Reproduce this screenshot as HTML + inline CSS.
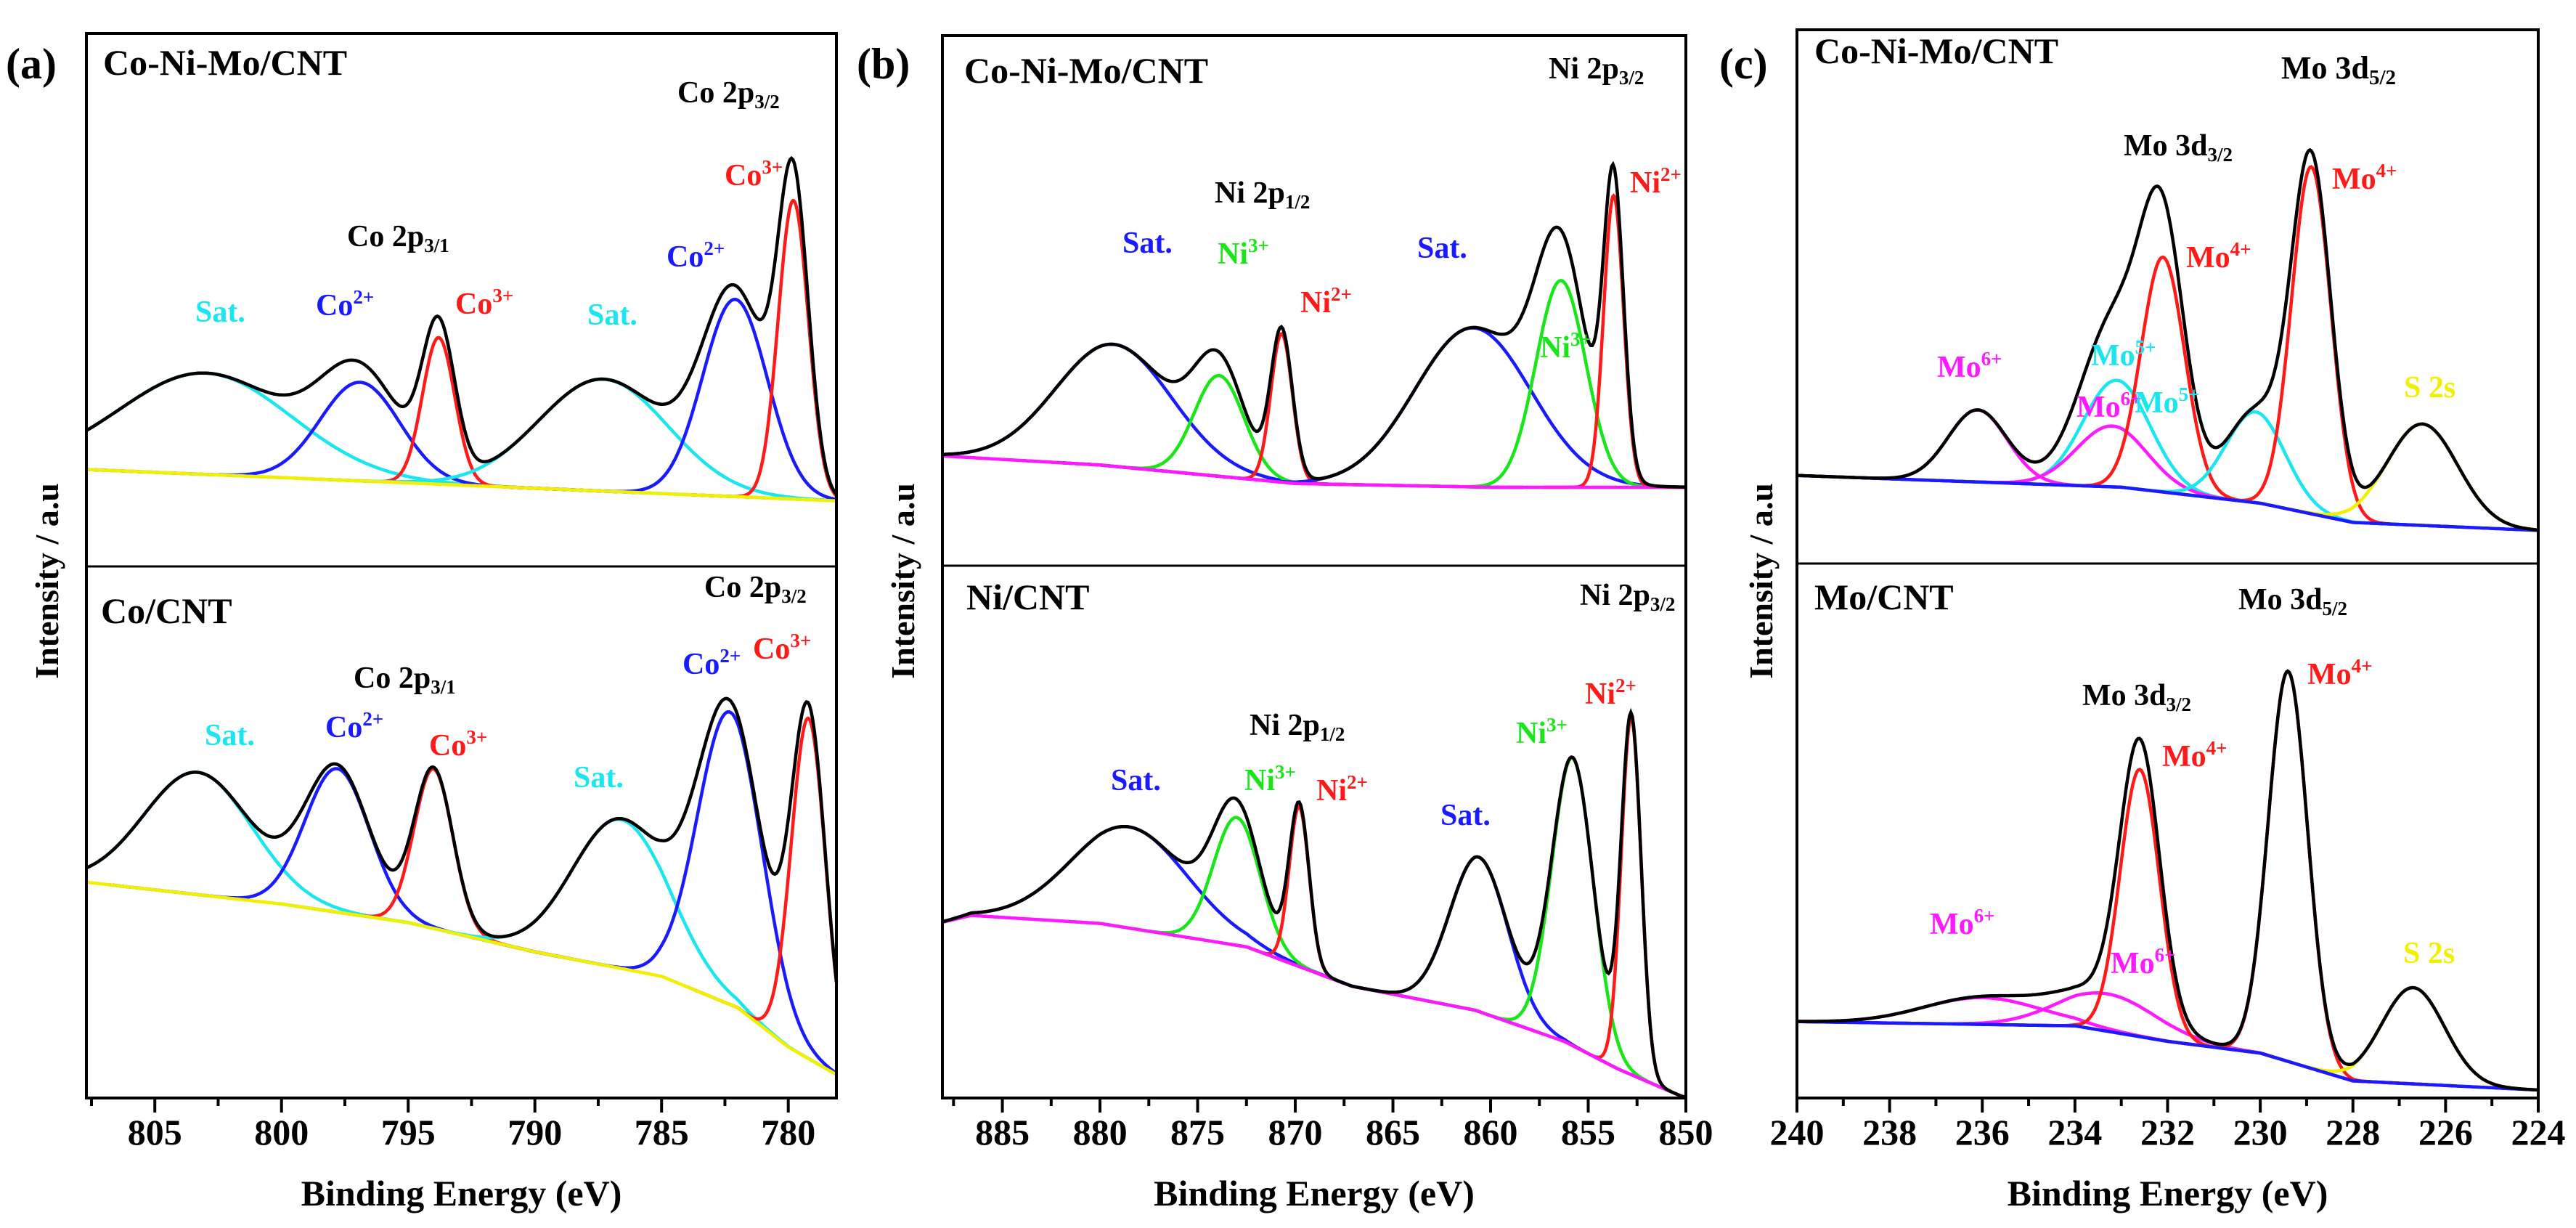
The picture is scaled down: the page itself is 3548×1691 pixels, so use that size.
<!DOCTYPE html>
<html><head><meta charset="utf-8">
<style>
html,body{margin:0;padding:0;background:#fff;}
svg{display:block;}
text{font-family:"Liberation Serif",serif;font-weight:bold;}
</style></head>
<body>
<svg id="fig" width="3548" height="1691" viewBox="0 0 3548 1691" xmlns="http://www.w3.org/2000/svg">
<rect width="3548" height="1691" fill="#fff"/>
<g id="layer"></g>
</svg>
<script>
// ===== DATA (binding energy in eV, intensity in arbitrary units 0-100 per sub-panel) =====
// Panel a top (Co-Ni-Mo/CNT, Co 2p)
const aTopBgE=[807.7,778.1];
const aTopBgU=[18.2,12.3];
const aTopCenters=[803.0,796.9,793.8,787.3,782.1,779.8];
const aTopHeights=[19,18.5,27.5,21,37,56];
const aTopFwhm=[8,3.7,1.5,6,3,1.4];
const aTopKinds=["cyan","blue","red","cyan","blue","red"];
// Panel a bottom (Co/CNT)
const aBotBgE=[807.7,800,795,790,785,782,780,778.1];
const aBotBgU=[40.6,36.5,33,27.5,22.9,17,9.6,4.4];
const aBotCenters=[803.3,797.8,794.0,786.6,782.3,779.2];
const aBotHeights=[23,27,30,28,55,64];
const aBotFwhm=[5,3,1.8,4.5,3,1.6];
const aBotKinds=["cyan","blue","red","cyan","blue","red"];
// Panel b top (Co-Ni-Mo/CNT, Ni 2p)
const bTopBgE=[888.07,880,870,860,850];
const bTopBgU=[20.7,19,15.5,14.8,14.8];
const bTopCenters=[879.3,873.9,870.7,860.9,856.4,853.7];
const bTopHeights=[23,19,28,30,39,55];
const bTopFwhm=[7,3,1.3,7,3,1.2];
const bTopKinds=["blue","green","red","blue","green","red"];
// Panel b bottom (Ni/CNT)
const bBotBgE=[888.07,886.6,880,872.5,867.1,860.8,856.2,853.5,850.2,850];
const bBotBgU=[33,34.3,32.8,28.4,21,16.5,10.6,5.5,0.3,0.2];
const bBotCenters=[878.5,873.0,869.8,860.6,855.8,852.8];
const bBotHeights=[19,24,30,29,54,67];
const bBotFwhm=[7,2.8,1.2,3.5,2.5,1.2];
const bBotKinds=["blue","green","red","blue","green","red"];
// Panel c top (Co-Ni-Mo/CNT, Mo 3d)
const cTopBgE=[240,233,230,228,224];
const cTopBgU=[16.5,14.3,11.3,7.7,6.2];
const cTopCenters=[236.1,233.1,233.2,232.1,230.1,228.9,226.5];
const cTopHeights=[13.5,20,11.4,44,17,65,19];
const cTopFwhm=[1.5,1.7,1.8,1.1,1.5,1.0,1.8];
const cTopKinds=["magenta","cyan","magenta","red","cyan","red","yellow"];
// Panel c bottom (Mo/CNT)
const cBotBgE=[240,234,232,230,228,224];
const cBotBgU=[14.3,13.5,10.6,8.4,3.2,1.5];
const cBotCenters=[236.0,233.3,232.6,229.4,226.7];
const cBotHeights=[5,7,50,73,18];
const cBotFwhm=[3,2.5,1.0,1.0,1.6];
const cBotKinds=["magenta","magenta","red","red","yellow"];
// Tick labels
const aTicks=[805,800,795,790,785,780];
const bTicks=[885,880,875,870,865,860,855,850];
const cTicks=[240,238,236,234,232,230,228,226,224];

// ===== STYLES / GEOMETRY =====
const COL={cyan:"#19e6ef",blue:"#1a1aff",red:"#ff1a1a",green:"#19e619",magenta:"#ff19ff",yellow:"#f0f000"};
const NS="http://www.w3.org/2000/svg";
const layer=document.getElementById("layer");
function mk(tag,attrs,parent){const e=document.createElementNS(NS,tag);for(const k in attrs)e.setAttribute(k,attrs[k]);(parent||layer).appendChild(e);return e;}

const panels=[
 {id:"a",x0:119,x1:1152,e0:807.7,e1:778.1,yT:46,yM:780,yB:1512,ticks:aTicks,minor:2.5,bgCol:COL.yellow,
  subs:[[aTopBgE,aTopBgU,aTopCenters,aTopHeights,aTopFwhm,aTopKinds],[aBotBgE,aBotBgU,aBotCenters,aBotHeights,aBotFwhm,aBotKinds]],ylab:65},
 {id:"b",x0:1298,x1:2322,e0:888.07,e1:850,yT:49,yM:779,yB:1512,ticks:bTicks,minor:2.5,bgCol:COL.magenta,
  subs:[[bTopBgE,bTopBgU,bTopCenters,bTopHeights,bTopFwhm,bTopKinds],[bBotBgE,bBotBgU,bBotCenters,bBotHeights,bBotFwhm,bBotKinds]],ylab:1244},
 {id:"c",x0:2475,x1:3496,e0:240,e1:224,yT:41,yM:776,yB:1512,ticks:cTicks,minor:1,bgCol:COL.blue,
  subs:[[cTopBgE,cTopBgU,cTopCenters,cTopHeights,cTopFwhm,cTopKinds],[cBotBgE,cBotBgU,cBotCenters,cBotHeights,cBotFwhm,cBotKinds]],ylab:2426}
];

function interp(xs,ys,x){
  for(let i=0;i<xs.length-1;i++){
    const a=xs[i],b=xs[i+1];
    if((x<=a&&x>=b)||(x>=a&&x<=b)){const t=(x-a)/(b-a);return ys[i]+t*(ys[i+1]-ys[i]);}
  }
  return x>Math.max(xs[0],xs[xs.length-1])?ys[0]:ys[ys.length-1];
}
function gauss(x,c,h,f){return h*Math.exp(-4*Math.LN2*(x-c)*(x-c)/(f*f));}

panels.forEach(p=>{
  const g=mk("g",{});
  
  
  const xs=e=>p.x0+(p.e0-e)/(p.e0-p.e1)*(p.x1-p.x0);
  const N=500;
  p.subs.forEach((s,si)=>{
    const [bgE,bgU,cs,hs,fs,ks]=s;
    const top=si===0?p.yT:p.yM, bot=si===0?p.yM:p.yB;
    const ys=u=>bot-u/100*(bot-top);
    const sg=mk("g",{},g);
    
    
    cs.forEach((c,i)=>{
      const lo=Math.min(p.e0,c+3*fs[i]), hi=Math.max(p.e1,c-3*fs[i]);
      let d="";
      for(let k=0;k<=200;k++){
        const e=lo+(hi-lo)*k/200;
        const u=interp(bgE,bgU,e)+gauss(e,c,hs[i],fs[i]);
        d+=(k?"L":"M")+xs(e).toFixed(1)+","+ys(u).toFixed(1);
      }
      const path=mk("path",{d:d,fill:"none",stroke:COL[ks[i]],"stroke-width":4.5},sg);
      
      
    });
    let db="";
    for(let k=0;k<=N;k++){const e=p.e0+(p.e1-p.e0)*k/N;db+=(k?"L":"M")+xs(e).toFixed(1)+","+ys(interp(bgE,bgU,e)).toFixed(1);}
    const bp=mk("path",{d:db,fill:"none",stroke:p.bgCol,"stroke-width":4.5},sg);
    
    
    let de="";
    for(let k=0;k<=N;k++){
      const e=p.e0+(p.e1-p.e0)*k/N;
      let u=interp(bgE,bgU,e);
      cs.forEach((c,i)=>{u+=gauss(e,c,hs[i],fs[i]);});
      de+=(k?"L":"M")+xs(e).toFixed(1)+","+ys(u).toFixed(1);
    }
    const ep=mk("path",{d:de,fill:"none",stroke:"#000","stroke-width":4.5},sg);
    
    
  });
  const fr=mk("rect",{x:p.x0,y:p.yT,width:p.x1-p.x0,height:p.yB-p.yT,fill:"none",stroke:"#000","stroke-width":4},g);
  
  
  const dv=mk("line",{x1:p.x0,x2:p.x1,y1:p.yM,y2:p.yM,stroke:"#000","stroke-width":3},g);
  
  
  const lo=Math.min(p.e0,p.e1),hi=Math.max(p.e0,p.e1);
  for(let e=Math.ceil(lo/p.minor)*p.minor;e<=hi+1e-6;e+=p.minor){
    const major=p.ticks.some(t=>Math.abs(t-e)<1e-6);
    const tl=mk("line",{x1:xs(e),x2:xs(e),y1:p.yB,y2:p.yB+(major?20:11),stroke:"#000","stroke-width":4},g);
    
    
  }
  p.ticks.forEach(t=>{
    const tx=mk("text",{x:xs(t),y:1576,"font-size":50,"text-anchor":"middle"},g);
    tx.textContent=t;
    
    
  });
  const xl=mk("text",{x:(p.x0+p.x1)/2,y:1660,"font-size":50,"text-anchor":"middle"},g);
  xl.textContent="Binding Energy (eV)";
  
  
  const yl=mk("text",{x:0,y:0,"font-size":46,"text-anchor":"middle",transform:"translate("+(p.ylab+15)+",800) rotate(-90)"},g);
  yl.textContent="Intensity / a.u";
  
  
});

const labels=[
 [8,108,"#000","(a)","",  "",60],
 [1180,108,"#000","(b)","","",60],
 [2368,108,"#000","(c)","","",60],
 [142,103,"#000","Co-Ni-Mo/CNT","","",50],[933,141,"#000","Co 2p","sub","3/2",42],
 [998,255,COL.red,"Co","sup","3+",42],[478,339,"#000","Co 2p","sub","3/1",42],
 [269,443,COL.cyan,"Sat.","","",42],[435,434,COL.blue,"Co","sup","2+",42],
 [627,432,COL.red,"Co","sup","3+",42],[809,447,COL.cyan,"Sat.","","",42],
 [918,367,COL.blue,"Co","sup","2+",42],
 [139,858,"#000","Co/CNT","","",50],[970,822,"#000","Co 2p","sub","3/2",42],
 [940,928,COL.blue,"Co","sup","2+",42],[1037,907,COL.red,"Co","sup","3+",42],
 [487,947,"#000","Co 2p","sub","3/1",42],[282,1026,COL.cyan,"Sat.","","",42],
 [448,1015,COL.blue,"Co","sup","2+",42],[591,1040,COL.red,"Co","sup","3+",42],
 [790,1084,COL.cyan,"Sat.","","",42],
 [1328,114,"#000","Co-Ni-Mo/CNT","","",50],[2133,108,"#000","Ni 2p","sub","3/2",42],
 [2245,265,COL.red,"Ni","sup","2+",42],[1673,279,"#000","Ni 2p","sub","1/2",42],
 [1546,348,COL.blue,"Sat.","","",42],[1677,363,COL.green,"Ni","sup","3+",42],
 [1791,430,COL.red,"Ni","sup","2+",42],[1952,355,COL.blue,"Sat.","","",42],
 [2121,492,COL.green,"Ni","sup","3+",42],
 [1331,839,"#000","Ni/CNT","","",50],[2176,833,"#000","Ni 2p","sub","3/2",42],
 [2183,969,COL.red,"Ni","sup","2+",42],[2088,1023,COL.green,"Ni","sup","3+",42],
 [1721,1012,"#000","Ni 2p","sub","1/2",42],[1530,1088,COL.blue,"Sat.","","",42],
 [1714,1088,COL.green,"Ni","sup","3+",42],[1813,1102,COL.red,"Ni","sup","2+",42],
 [1984,1136,COL.blue,"Sat.","","",42],
 [2499,87,"#000","Co-Ni-Mo/CNT","","",50],[3142,108,"#000","Mo 3d","sub","5/2",44],
 [2925,214,"#000","Mo 3d","sub","3/2",42],[3212,260,COL.red,"Mo","sup","4+",42],
 [3011,368,COL.red,"Mo","sup","4+",42],[2668,519,COL.magenta,"Mo","sup","6+",42],
 [2880,503,COL.cyan,"Mo","sup","5+",42],[2860,574,COL.magenta,"Mo","sup","6+",42],
 [2940,568,COL.cyan,"Mo","sup","5+",42],[3311,547,COL.yellow,"S 2s","","",42],
 [2499,839,"#000","Mo/CNT","","",50],[3083,839,"#000","Mo 3d","sub","5/2",42],
 [3178,942,COL.red,"Mo","sup","4+",42],[2868,971,"#000","Mo 3d","sub","3/2",42],
 [2978,1055,COL.red,"Mo","sup","4+",42],[2658,1286,COL.magenta,"Mo","sup","6+",42],
 [2907,1340,COL.magenta,"Mo","sup","6+",42],[3310,1326,COL.yellow,"S 2s","","",42]
];
labels.forEach(l=>{
  const t=mk("text",{x:l[0],y:l[1],fill:l[2],"font-size":l[6]});
  
  
  t.appendChild(document.createTextNode(l[3]));
  if(l[4]){
    const ts=document.createElementNS(NS,"tspan");
    ts.setAttribute("font-size",Math.round(l[6]*0.65));
    ts.setAttribute("dy",l[4]==="sub"?8:-16);
    ts.textContent=l[5];
    t.appendChild(ts);
  }
});
</script>
</body></html>
